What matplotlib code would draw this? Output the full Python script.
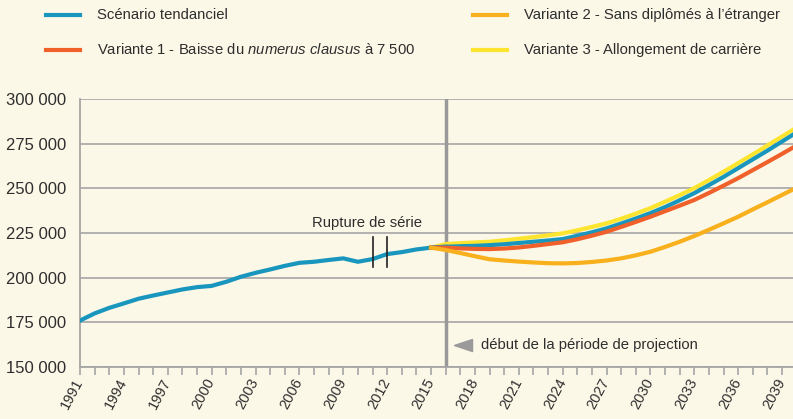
import matplotlib.pyplot as plt
from matplotlib.lines import Line2D

plt.rcParams["font.family"] = ["Liberation Sans", "DejaVu Sans"]
plt.rcParams["mathtext.fontset"] = "custom"
plt.rcParams["mathtext.it"] = "Liberation Sans:italic"
plt.rcParams["mathtext.rm"] = "Liberation Sans"

# historical series (Scénario tendanciel, observed)
hist_years = list(range(1991, 2017))
hist_vals = [176000, 180000, 183100, 185600, 188200, 190000, 191700, 193400, 194700,
             195400, 197700, 200500, 202700, 204600, 206600, 208300, 208900, 209900,
             210800, 208900, 210400, 213200, 214300, 215800, 216800, 217300]

# projections
proj_years = list(range(2015, 2041))
tendanciel = [216800, 217300, 217600, 217800, 218200, 218700, 219400, 220100, 220800,
              221600, 223400, 225400, 227600, 230300, 233100, 236100, 239500, 243300,
              247300, 251800, 256400, 261300, 266200, 271100, 276200, 281300]
variante1 = [216800, 216800, 216400, 216100, 216000, 216300, 216900, 217800, 218800,
             219800, 221500, 223500, 225700, 228400, 231200, 234100, 237200, 240300,
             243500, 247400, 251500, 255700, 260200, 264700, 269300, 274000]
variante2 = [216800, 215500, 213800, 212000, 210300, 209600, 209000, 208500, 208100,
             208000, 208200, 208800, 209600, 210800, 212500, 214500, 217200, 220100,
             223300, 226800, 230400, 234100, 238200, 242200, 246300, 250400]
variante3 = [216800, 218800, 219300, 219700, 220100, 220900, 221800, 222700, 223700,
             224800, 226500, 228400, 230400, 233000, 235800, 238900, 242500, 246200,
             250100, 254600, 259300, 264100, 269000, 274000, 279000, 284000]

labels = ["Scénario tendanciel",
          r"Variante 1 - Baisse du $\it{numerus\ clausus}$ à 7 500",
          "Variante 2 - Sans diplômés à l’étranger",
          "Variante 3 - Allongement de carrière"]

BG = "#FCF8E8"
BLUE = "#1996BE"
RED = "#F0602A"
ORANGE = "#F8B01C"
YELLOW = "#FDE52F"
GREY = "#A6A6A6"
TXT = "#2E2E2E"
FS = 10.7

fig = plt.figure(figsize=(7.93, 4.19), dpi=100, facecolor=BG)
ax = fig.add_axes([80 / 793, 1 - 367 / 419, 1 - 80 / 793, (367 - 99) / 419])
ax.set_facecolor(BG)

ax.plot(proj_years, variante3, color=YELLOW, lw=3, zorder=3)
ax.plot(hist_years, hist_vals, color=BLUE, lw=3, zorder=4)
ax.plot(proj_years, tendanciel, color=BLUE, lw=3, zorder=4)
ax.plot(proj_years, variante1, color=RED, lw=3, zorder=5)
ax.plot(proj_years, variante2, color=ORANGE, lw=3, zorder=6)

# rupture de série marks
for yr in (2011, 2012):
    ax.plot([yr, yr], [206000, 223000], color="#222222", lw=1.2, zorder=7)
ax.text(2010.6, 230500, "Rupture de série", ha="center", va="center", fontsize=FS, color=TXT)

# start of projection period
ax.axvline(2016, color="#999999", lw=2.5, zorder=2)
tri = [(-1, 0), (1, 0.67), (1, -0.67), (-1, 0)]
ax.plot([2017.2], [162200], marker=tri, markersize=13, color="#9A9A9A", zorder=7)
ax.text(2018.42, 162200, "début de la période de projection", va="center",
        fontsize=FS, color=TXT)

ax.set_xlim(1991, 2039.75)
ax.set_ylim(150000, 300000)
ax.set_yticks(range(150000, 300001, 25000))
ax.set_yticklabels([f"{v // 1000} 000" for v in range(150000, 300001, 25000)])
ax.set_xticks(range(1991, 2040, 3))
ax.set_xticks(range(1991, 2040), minor=True)
ax.grid(axis="y", color=GREY, lw=1.2, zorder=1)

for s in ("top", "right"):
    ax.spines[s].set_visible(False)
for s in ("left", "bottom"):
    ax.spines[s].set_color(GREY)
    ax.spines[s].set_linewidth(1.3)

ax.tick_params(axis="y", length=0, pad=10, labelsize=12, labelcolor=TXT)
ax.tick_params(axis="x", which="both", length=6, color=GREY, width=1.2)
ax.tick_params(axis="x", labelsize=10.5, labelcolor=TXT, pad=3)
plt.setp(ax.get_xticklabels(), rotation=62, ha="right", va="center", rotation_mode="anchor")

# legend drawn in figure pixels
W, H = 793, 419
entries = [(labels[0], BLUE, 46, 15), (labels[1], RED, 46, 50),
           (labels[2], ORANGE, 473, 15), (labels[3], YELLOW, 473, 50)]
for lab, col, x0, y0 in entries:
    fig.add_artist(Line2D([x0 / W, (x0 + 34) / W], [1 - y0 / H, 1 - y0 / H],
                          color=col, lw=3, transform=fig.transFigure))
    fig.text((x0 + 51) / W, 1 - y0 / H, lab, va="center", fontsize=FS, color=TXT)

fig.savefig("out.png", dpi=100, facecolor=BG)
